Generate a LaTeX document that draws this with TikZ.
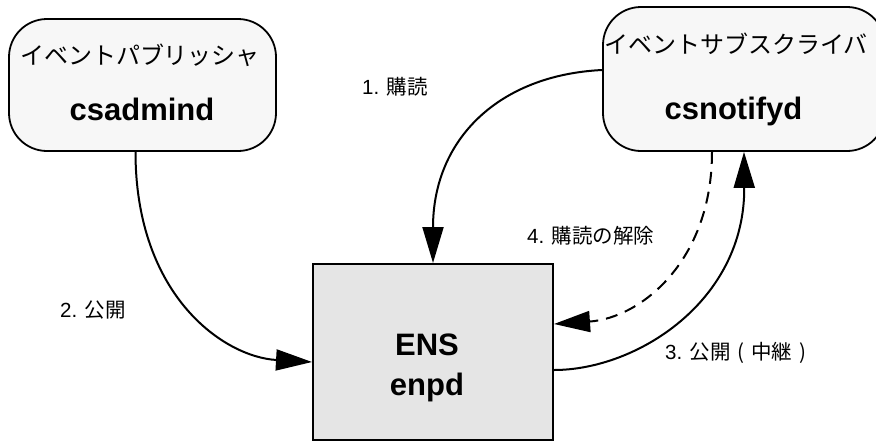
\documentclass[tikz,border=0pt]{standalone}
\usepackage{fontspec}
\setmainfont{Liberation Sans}
\newfontfamily\jp{Noto Sans CJK JP}
\usetikzlibrary{arrows.meta}

% a bracket set in the middle of a full-width cell
\newcommand{\cellbr}[1]{\makebox[1em][c]{#1}}

\tikzset{
  procbox/.style={draw=black, line width=1.8pt, fill=gray!6,
    rounded corners=38pt, inner sep=0pt},
  ensbox/.style={draw=black, line width=2pt, fill=gray!20, inner sep=0pt},
  boxtitle/.style={font=\jp\fontsize{24}{28}\selectfont, anchor=base, inner sep=0pt},
  boxname/.style={font=\bfseries\fontsize{31}{36}\selectfont, anchor=base, inner sep=0pt},
  lbl/.style={font=\fontsize{20.5}{24}\selectfont, anchor=base west, inner sep=0pt},
  flow/.style={line width=2pt, -{Triangle[length=36pt,width=21pt]}},
  flowback/.style={flow, dash pattern=on 12pt off 8pt},
}

\begin{document}
\begin{tikzpicture}[x=1pt, y=-1pt]
  \useasboundingbox (0,0) rectangle (876,440);

  % process boxes
  \node[procbox, minimum width=267pt, minimum height=132pt] (pub) at (142.5,85) {};
  \node[procbox, minimum width=282pt, minimum height=144pt] (sub) at (744,79) {};
  \node[ensbox, minimum width=240pt, minimum height=176pt] (ens) at (433,352) {};

  % box texts
  \node[boxtitle] (pubtitle) at (140,64) {イベントパブリッシャ};
  \node[boxname]  (pubname)  at (142,120) {csadmind};
  \node[boxtitle] (subtitle) at (736,53) {イベントサブスクライバ};
  \node[boxname]  (subname)  at (733.5,119) {csnotifyd};
  \node[boxname]  (ensname)  at (427,355) {ENS};
  \node[boxname]  (enspd)    at (427,395) {enpd};

  % connectors
  \draw[flow] ([yshift=9pt]sub.west) .. controls +(-103,5) and +(0,-124) .. (ens.north);
  \draw[flow] ([xshift=-7pt]pub.south) .. controls +(0,144) and +(-88,-5) .. ([yshift=-10pt]ens.west);
  \draw[flow] ([yshift=-18pt]ens.east) .. controls +(83,0) and +(1,149) .. (sub.south);
  \draw[flowback] ([xshift=-32pt]sub.south) .. controls +(0,109) and +(87,-6) .. ([yshift=28pt]ens.east);

  % connector labels
  \node[lbl] (l1) at (362,94)  {1. {\jp 購読}};
  \node[lbl] (l2) at (60,317)  {2. {\jp 公開}};
  \node[lbl] (l3) at (665,359) {3. {\jp 公開\cellbr{(}中継\cellbr{)}}};
  \node[lbl] (l4) at (527,243) {4. {\jp 購読の解除}};
\end{tikzpicture}
\end{document}
